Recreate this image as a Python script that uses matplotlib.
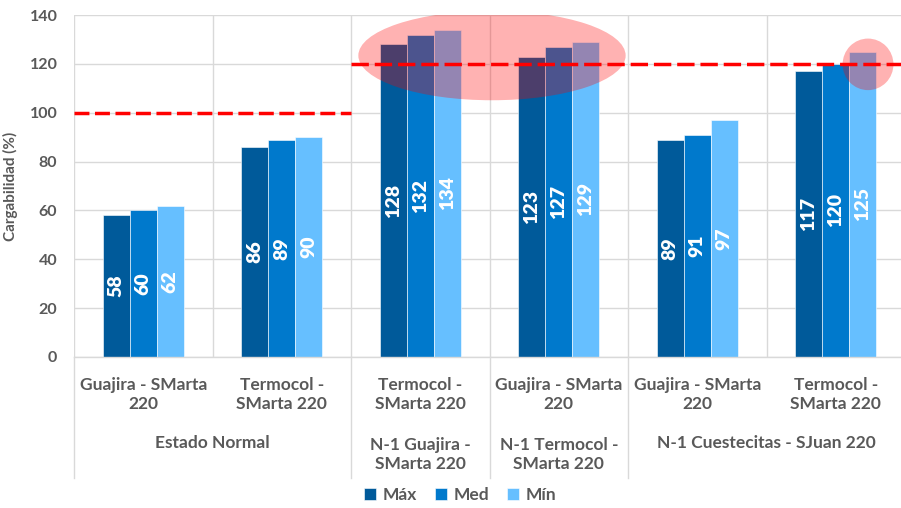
import matplotlib
matplotlib.use("Agg")
import matplotlib.pyplot as plt
import matplotlib.patches as mpatches
import numpy as np

plt.rcParams['font.family'] = ['Lato', 'DejaVu Sans']
plt.rcParams['font.weight'] = 'bold'

# loading per line and scenario (%)
series = ["Máx", "Med", "Mín"]
lines = ["Guajira - SMarta\n220", "Termocol -\nSMarta 220", "Termocol -\nSMarta 220",
         "Guajira - SMarta\n220", "Guajira - SMarta\n220", "Termocol -\nSMarta 220"]
scenarios = ["Estado Normal", "N-1 Guajira -\nSMarta 220", "N-1 Termocol -\nSMarta 220",
             "N-1 Cuestecitas - SJuan 220"]
scenario_span = [(0, 1), (2, 2), (3, 3), (4, 5)]
maxv = [58, 86, 128, 123, 89, 117]
medv = [60, 89, 132, 127, 91, 120]
minv = [62, 90, 134, 129, 97, 125]
limits = [(0, 1, 100), (2, 5, 120)]

colors = ["#005A9A", "#0079CC", "#66BFFF"]
grey = "#595959"
gridc = "#D9D9D9"

fig = plt.figure(figsize=(9.01, 5.08), dpi=100)
ax = fig.add_axes([74 / 901, 1 - 357 / 508, 831 / 901, 342 / 508])

x = np.arange(len(lines))
w = 0.195
bars = []
for i, (vals, c) in enumerate(zip([maxv, medv, minv], colors)):
    b = ax.bar(x + (i - 1) * w, vals, w, color=c, edgecolor="white", linewidth=0.4,
               label=series[i], zorder=2)
    bars.append(b)
    for xi, v in zip(x + (i - 1) * w, vals):
        ax.text(xi, v / 2, str(v), rotation=90, ha="center", va="center",
                color="white", fontsize=14, fontweight="heavy", zorder=4)

# limit lines
dash_styles = [(0, (4.3, 1.6)), (0, (5, 1.7))]
for (a, b_, lim), ls in zip(limits, dash_styles):
    ax.plot([a - 0.5, b_ + 0.5], [lim, lim], color="red", lw=2.5, linestyle=ls,
            zorder=6, solid_capstyle="butt", dash_capstyle="butt")

# overload highlights
ax.add_patch(mpatches.Ellipse((2.518, 123.4), 1.93, 36.6, facecolor="red",
                              edgecolor="none", alpha=0.3, zorder=5))
ax.add_patch(mpatches.Ellipse((5.233, 119.8), 0.367, 21.1, facecolor="red",
                              edgecolor="none", alpha=0.3, zorder=5))

ax.set_xlim(-0.5, len(lines) - 0.5)
ax.set_ylim(0, 140)
ax.set_yticks(np.arange(0, 141, 20))
ax.set_xticks(x)
ax.set_xticklabels([])
ax.set_xticks(np.arange(-0.5, len(lines), 1), minor=True)
ax.tick_params(axis="both", which="both", length=0)
ax.tick_params(axis="y", labelsize=11.5, labelcolor=grey, pad=12)
for lab in ax.get_yticklabels():
    lab.set_fontweight("bold")
ax.grid(axis="y", which="major", color=gridc, lw=1)
ax.grid(axis="x", which="minor", color=gridc, lw=1)
ax.set_axisbelow(True)
for s in ["top", "right", "left"]:
    ax.spines[s].set_visible(False)
ax.spines["bottom"].set_color(gridc)
ax.spines["bottom"].set_linewidth(1)

ax.set_ylabel("Cargabilidad (%)", fontsize=11, color=grey, fontweight="bold", labelpad=8)

# two-level category axis
tr = ax.get_xaxis_transform()
def yfrac(py):
    return (357 - py) / 342

for xi, name in zip(x, lines):
    ax.text(xi, yfrac(394.5), name, transform=tr, ha="center", va="center",
            fontsize=12.5, color=grey, linespacing=1.3)
for (a, b_), name in zip(scenario_span, scenarios):
    py = 454.5 if "\n" in name else 443
    ax.text((a + b_) / 2, yfrac(py), name, transform=tr, ha="center", va="center",
            fontsize=12.5, color=grey, linespacing=1.3)
for xb in [-0.5, 1.5, 2.5, 3.5, 5.5]:
    ax.plot([xb, xb], [0, yfrac(478)], transform=tr, color=gridc, lw=1, clip_on=False)

fig.legend(handles=bars, loc="center", bbox_to_anchor=(460 / 901, 1 - 495 / 508), ncol=3,
           frameon=False, handlelength=0.7, handleheight=0.7, handletextpad=0.4,
           columnspacing=1.0, prop={"weight": "bold", "size": 12.5}, labelcolor=grey)

fig.savefig("out.png", dpi=100)
